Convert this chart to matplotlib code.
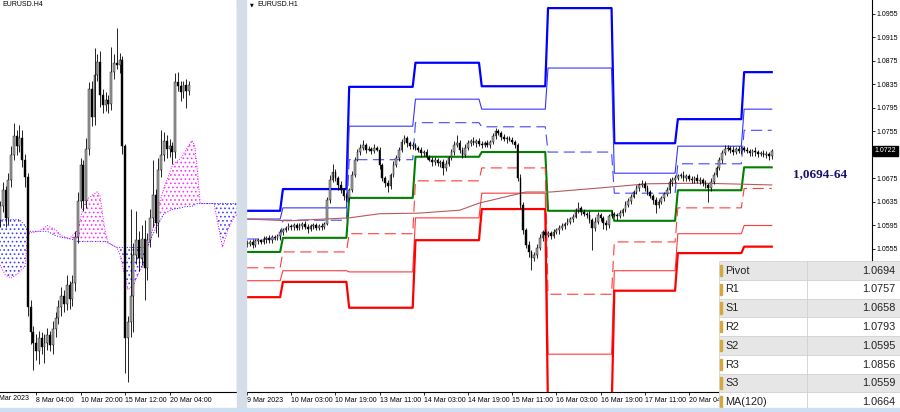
import matplotlib
matplotlib.use("Agg")
import matplotlib.pyplot as plt
from matplotlib.patches import Rectangle
import numpy as np

plt.rcParams['font.family'] = ['Liberation Sans', 'DejaVu Sans']
plt.rcParams['hatch.linewidth'] = 0.7

# ---------------- EURUSD H4 (left window) ----------------
h4_open0 = 1.0630
h4_close = [1.0639, 1.0650, 1.0631, 1.0657, 1.0674, 1.0687, 1.0680, 1.0686, 1.0671, 1.0659,
            1.0570, 1.0553, 1.0546, 1.0540, 1.0549, 1.0543, 1.0546, 1.0551, 1.0544, 1.0555,
            1.0563, 1.0570, 1.0578, 1.0572, 1.0585, 1.0576, 1.0587, 1.0618, 1.0643, 1.0667,
            1.0643, 1.0678, 1.0719, 1.0700, 1.0729, 1.0738, 1.0715, 1.0708, 1.0712, 1.0709,
            1.0731, 1.0737, 1.0736, 1.0739, 1.0680, 1.0549, 1.0560, 1.0578, 1.0606, 1.0616,
            1.0604, 1.0617, 1.0597, 1.0616, 1.0631, 1.0647, 1.0628, 1.0664, 1.0674, 1.0684,
            1.0678, 1.0680, 1.0676, 1.0724, 1.0721, 1.0717, 1.0722, 1.0718, 1.0722]
# wick lengths in pips above / below the body
h4_wick_up = [4, 6, 3, 5, 6, 9, 4, 9, 5, 4,
              3, 5, 4, 6, 5, 4, 6, 5, 3, 6,
              4, 5, 6, 4, 7, 3, 5, 4, 6, 5,
              4, 8, 5, 6, 18, 5, 7, 4, 5, 3,
              17, 6, 24, 5, 3, 2, 4, 59, 8, 20,
              6, 9, 13, 5, 6, 24, 4, 8, 17, 6,
              4, 5, 3, 6, 7, 4, 3, 4, 3]
h4_wick_dn = [5, 4, 6, 4, 5, 3, 6, 4, 5, 7,
              6, 8, 19, 6, 9, 5, 11, 5, 4, 6,
              5, 4, 6, 5, 4, 7, 5, 6, 4, 5,
              7, 5, 4, 6, 5, 4, 8, 5, 4, 6,
              4, 5, 3, 6, 5, 24, 30, 10, 25, 6,
              9, 5, 22, 8, 5, 6, 7, 10, 5, 4,
              6, 5, 8, 4, 3, 6, 4, 12, 3]
h4_tick_bars = [13, 29, 45, 61]
h4_tick_labels = ["8 Mar 04:00", "10 Mar 20:00", "15 Mar 12:00", "20 Mar 04:00"]

# Ichimoku cloud (Senkou span A / B)
cloud_bars = [0, 2, 4, 7, 9, 10, 11, 14, 17, 20, 22, 25, 27, 28, 30, 32, 35, 36, 37, 38,
              39, 42, 43, 45, 46, 48, 50, 52, 53, 55, 56, 59, 62, 65, 67, 69, 70, 71, 72, 77,
              78, 80, 82, 84, 86]
span_a = [1.0599, 1.0592, 1.0590, 1.0594, 1.0598, 1.0620, 1.0621, 1.0622, 1.0626, 1.0623,
          1.0619, 1.0617, 1.0621, 1.0623, 1.0639, 1.0645, 1.0649, 1.0646, 1.0632, 1.0620,
          1.0614, 1.0611, 1.0607, 1.0591, 1.0582, 1.0585, 1.0594, 1.0600, 1.0611, 1.0624,
          1.0632, 1.0652, 1.0667, 1.0672, 1.0678, 1.0684, 1.0681, 1.0664, 1.0641, 1.0641,
          1.0631, 1.0611, 1.0623, 1.0631, 1.0635]
span_b = [1.0630, 1.0630, 1.0630, 1.0630, 1.0626, 1.0622, 1.0622, 1.0622, 1.0622, 1.0619,
          1.0618, 1.0617, 1.0616, 1.0615, 1.0615, 1.0615, 1.0615, 1.0615, 1.0615, 1.0615,
          1.0614, 1.0611, 1.0611, 1.0611, 1.0611, 1.0611, 1.0611, 1.0611, 1.0611, 1.0620,
          1.0624, 1.0634, 1.0637, 1.0638, 1.0639, 1.0639, 1.0640, 1.0641, 1.0641, 1.0641,
          1.0641, 1.0641, 1.0641, 1.0641, 1.0641]

# ---------------- EURUSD H1 (right window) ----------------
h1_open0 = 1.0566
h1_close = [1.0564, 1.0567, 1.0562, 1.0569, 1.0570, 1.0567, 1.0572, 1.0574, 1.0570, 1.0575,
            1.0574, 1.0577, 1.0584, 1.0587, 1.0591, 1.0594, 1.0593, 1.0596, 1.0591, 1.0594,
            1.0598, 1.0593, 1.0589, 1.0594, 1.0596, 1.0591, 1.0594, 1.0593, 1.0598, 1.0638,
            1.0673, 1.0686, 1.0676, 1.0664, 1.0655, 1.0645, 1.0642, 1.0655, 1.0681, 1.0707,
            1.0720, 1.0727, 1.0732, 1.0724, 1.0725, 1.0722, 1.0727, 1.0724, 1.0698, 1.0676,
            1.0667, 1.0662, 1.0681, 1.0698, 1.0710, 1.0724, 1.0737, 1.0744, 1.0735, 1.0730,
            1.0732, 1.0727, 1.0724, 1.0718, 1.0720, 1.0712, 1.0707, 1.0703, 1.0707, 1.0701,
            1.0703, 1.0693, 1.0700, 1.0710, 1.0720, 1.0732, 1.0735, 1.0724, 1.0715, 1.0727,
            1.0735, 1.0739, 1.0735, 1.0739, 1.0734, 1.0732, 1.0735, 1.0732, 1.0737, 1.0747,
            1.0756, 1.0752, 1.0746, 1.0742, 1.0744, 1.0741, 1.0737, 1.0732, 1.0676, 1.0630,
            1.0587, 1.0562, 1.0550, 1.0540, 1.0545, 1.0557, 1.0574, 1.0584, 1.0579, 1.0582,
            1.0577, 1.0584, 1.0587, 1.0591, 1.0594, 1.0598, 1.0601, 1.0606, 1.0610, 1.0621,
            1.0625, 1.0618, 1.0615, 1.0613, 1.0604, 1.0591, 1.0601, 1.0613, 1.0608, 1.0599,
            1.0596, 1.0611, 1.0615, 1.0613, 1.0611, 1.0616, 1.0621, 1.0630, 1.0637, 1.0644,
            1.0652, 1.0659, 1.0664, 1.0666, 1.0659, 1.0652, 1.0645, 1.0638, 1.0630, 1.0635,
            1.0642, 1.0649, 1.0655, 1.0669, 1.0673, 1.0676, 1.0679, 1.0681, 1.0676, 1.0679,
            1.0674, 1.0673, 1.0676, 1.0671, 1.0673, 1.0667, 1.0664, 1.0659, 1.0669, 1.0681,
            1.0693, 1.0707, 1.0718, 1.0725, 1.0727, 1.0724, 1.0720, 1.0725, 1.0722, 1.0727,
            1.0724, 1.0722, 1.0718, 1.0722, 1.0720, 1.0717, 1.0718, 1.0715, 1.0717, 1.0713,
            1.0722]
h1_wick_up = [4, 3, 5, 3, 4, 2, 5, 3, 4, 3, 4, 3, 5, 4, 3, 5, 4, 3, 4, 5,
              3, 4, 5, 3, 4, 3, 4, 5, 3, 6, 8, 14, 5, 4, 6, 3, 5, 4, 6, 5,
              6, 7, 9, 4, 5, 3, 6, 4, 5, 3, 4, 5, 3, 6, 5, 4, 6, 5, 4, 3,
              5, 4, 3, 5, 4, 6, 3, 4, 5, 3, 4, 5, 6, 4, 5, 6, 14, 5, 4, 6,
              5, 4, 6, 3, 5, 4, 3, 5, 4, 6, 5, 4, 3, 5, 4, 3, 5, 4, 3, 6,
              5, 4, 6, 3, 5, 7, 6, 4, 5, 3, 4, 5, 3, 4, 5, 3, 6, 4, 5, 4,
              10, 4, 5, 3, 6, 4, 8, 5, 4, 3, 5, 4, 6, 3, 4, 5, 3, 6, 4, 5,
              4, 5, 3, 7, 4, 5, 3, 4, 6, 5, 4, 3, 5, 6, 4, 5, 3, 4, 6, 3,
              4, 5, 3, 6, 4, 3, 5, 4, 6, 5, 4, 5, 6, 7, 5, 4, 6, 3, 5, 4,
              3, 5, 4, 3, 6, 4, 3, 5, 4, 3, 4]
h1_wick_dn = [5, 4, 6, 3, 5, 4, 3, 6, 4, 5, 3, 4, 6, 5, 3, 4, 5, 6, 4, 3,
              5, 4, 6, 3, 5, 4, 3, 5, 4, 3, 5, 4, 6, 8, 5, 7, 6, 4, 3, 4,
              3, 5, 4, 6, 3, 5, 4, 3, 6, 5, 7, 10, 5, 4, 3, 5, 4, 3, 6, 4,
              5, 3, 4, 6, 5, 4, 3, 6, 5, 4, 6, 12, 5, 4, 3, 5, 4, 6, 5, 3,
              4, 5, 3, 6, 4, 5, 3, 4, 5, 3, 4, 3, 5, 4, 6, 3, 4, 5, 6, 5,
              7, 6, 8, 20, 6, 5, 4, 6, 5, 4, 5, 4, 3, 6, 4, 5, 3, 4, 5, 3,
              4, 5, 3, 6, 4, 37, 5, 4, 6, 10, 8, 5, 4, 3, 6, 4, 5, 3, 4, 5,
              3, 4, 5, 4, 6, 5, 4, 6, 14, 5, 4, 5, 3, 4, 6, 5, 4, 3, 5, 6,
              4, 5, 6, 3, 5, 4, 6, 24, 5, 4, 3, 4, 5, 3, 4, 6, 5, 4, 3, 5,
              4, 3, 5, 4, 6, 5, 3, 4, 5, 6, 5]

# daily pivot levels: 9, 10, 13, 14, 15, 16, 17, 20, 21 Mar
day_bars = [13, 24, 24, 24, 24, 24, 23, 24, 11]
r3 = [1.0620, 1.0657, 1.0831, 1.0872, 1.0832, 1.0965, 1.0735, 1.0776, 1.0856]
r2 = [1.0606, 1.0625, 1.0764, 1.0810, 1.0793, 1.0863, 1.0684, 1.0730, 1.0793]
r1 = [1.0572, 1.0604, 1.0707, 1.0770, 1.0763, 1.0720, 1.0650, 1.0700, 1.0757]
pivot = [1.0550, 1.0574, 1.0642, 1.0712, 1.0720, 1.0620, 1.0603, 1.0655, 1.0694]
s1 = [1.0523, 1.0550, 1.0581, 1.0671, 1.0693, 1.0478, 1.0567, 1.0625, 1.0658]
s2 = [1.0501, 1.0518, 1.0516, 1.0608, 1.0650, 1.0376, 1.0518, 1.0581, 1.0595]
s3 = [1.0473, 1.0499, 1.0455, 1.0570, 1.0623, 1.0274, 1.0484, 1.0548, 1.0559]

ma_bars = [0, 15, 37, 48, 62, 77, 84, 101, 110, 128, 145, 165, 190]
ma120 = [1.0606, 1.0603, 1.0608, 1.0615, 1.0616, 1.0621, 1.0633, 1.0652, 1.0652,
         1.0659, 1.0666, 1.0667, 1.0664]

h1_tick_bars = [0, 16, 32, 48, 64, 80, 96, 112, 128, 144, 160]
h1_tick_labels = ["9 Mar 2023", "10 Mar 03:00", "10 Mar 19:00", "13 Mar 11:00",
                  "14 Mar 03:00", "14 Mar 19:00", "15 Mar 11:00", "16 Mar 03:00",
                  "16 Mar 19:00", "17 Mar 11:00", "20 Mar 04:00"]
price_ticks = [1.0555, 1.0595, 1.0635, 1.0675, 1.0715, 1.0755, 1.0795, 1.0835,
               1.0875, 1.0915, 1.0955]
last_price = 1.0722

zone_text = "1,0694-64"
zone_bar, zone_price = 207.5, 1.0683

table_names = ["Pivot", "R1", "S1", "R2", "S2", "R3", "S3", "MA(120)"]
table_values = ["1.0694", "1.0757", "1.0658", "1.0793", "1.0595", "1.0856", "1.0559", "1.0664"]

PIP = 0.0001
W, H = 900, 412


def px_rect(x0, y0, x1, y1):
    return [x0 / W, 1 - y1 / H, (x1 - x0) / W, (y1 - y0) / H]


def draw_candles(ax, open0, closes, up, dn, width):
    c = np.array(closes)
    o = np.concatenate([[open0], c[:-1]])
    top = np.maximum(o, c)
    bot = np.minimum(o, c)
    x = np.arange(len(c))
    ax.vlines(x, bot - np.array(dn) * PIP, top + np.array(up) * PIP,
              color='black', lw=0.6, zorder=5)
    colors = np.where(c >= o, '#a8a8a8', 'black')
    ax.bar(x, np.maximum(top - bot, 0.00004), bottom=bot, width=width,
           color=colors, edgecolor='black', linewidth=0.3, zorder=6)


def mt4_axis(ax, bars, labels):
    ax.set_xticks(bars)
    ax.set_xticklabels(labels)
    ax.tick_params(axis='x', length=2.5, width=0.6, pad=0.8, labelsize=5)
    for lab in ax.get_xticklabels():
        lab.set_ha('left')
    for s in ['top', 'left']:
        ax.spines[s].set_visible(False)


fig = plt.figure(figsize=(9, 4.12), dpi=100)

# window background / separators
fig.patches.append(Rectangle((237 / W, 0), 9 / W, 1, transform=fig.transFigure,
                             color='#d5dde8', zorder=0))
fig.patches.append(Rectangle((0, 0), 1, 4 / H, transform=fig.transFigure,
                             color='#cddff3', zorder=0))

# ---- left: H4 ----
ax1 = fig.add_axes(px_rect(0, 0, 237, 392))
ax1.set_xlim(0, 85.25)
ax1.set_ylim(1.05122, 1.07801)
a = np.array(span_a)
b = np.array(span_b)
ax1.fill_between(cloud_bars, a, b, where=a >= b, interpolate=True, facecolor='none',
                 edgecolor='#ff33ff', hatch='....', linewidth=0, zorder=2)
ax1.fill_between(cloud_bars, a, b, where=a < b, interpolate=True, facecolor='none',
                 edgecolor='#4040ff', hatch='....', linewidth=0, zorder=2)
ax1.plot(cloud_bars, span_a, color='#ff00ff', lw=0.7, ls=':', zorder=3)
ax1.plot(cloud_bars, span_b, color='#2020ff', lw=0.7, ls=':', zorder=3)
draw_candles(ax1, h4_open0, h4_close, h4_wick_up, h4_wick_dn, 0.7)
mt4_axis(ax1, h4_tick_bars, h4_tick_labels)
ax1.set_yticks([])
ax1.spines['right'].set_linewidth(0.8)
ax1.spines['bottom'].set_linewidth(0.8)
fig.text(-7 / W, 1 - 399 / H, "7 Mar 2023", fontsize=5, va='center', ha='left')
fig.text(2 / W, 1 - 5 / H, "EURUSD.H4", fontsize=5, va='center')

# ---- right: H1 ----
ax2 = fig.add_axes(px_rect(246, 0, 872, 392))
ax2.set_xlim(-0.36, 226.3)
ax2.set_ylim(1.03116, 1.09788)
xb = np.arange(len(h1_close))
ax2.plot(xb, np.repeat(r3, day_bars), color='#0000ff', lw=1.6, zorder=3)
ax2.plot(xb, np.repeat(r2, day_bars), color='#3535ff', lw=0.8, zorder=3)
ax2.plot(xb, np.repeat(r1, day_bars), color='#4545ff', lw=0.8, dashes=(10, 5), zorder=3)
ax2.plot(xb, np.repeat(pivot, day_bars), color='#008000', lw=1.5, zorder=3)
ax2.plot(xb, np.repeat(s1, day_bars), color='#ff3b3b', lw=0.8, dashes=(10, 5), zorder=3)
ax2.plot(xb, np.repeat(s2, day_bars), color='#ff3b3b', lw=0.8, zorder=3)
ax2.plot(xb, np.repeat(s3, day_bars), color='#ff0000', lw=1.6, zorder=3)
ax2.plot(ma_bars, ma120, color='#b85a5a', lw=0.8, zorder=3)
draw_candles(ax2, h1_open0, h1_close, h1_wick_up, h1_wick_dn, 0.6)
mt4_axis(ax2, h1_tick_bars, h1_tick_labels)
ax2.spines['left'].set_color('#808080')
ax2.yaxis.tick_right()
ax2.set_yticks(price_ticks)
ax2.set_yticklabels([f"{p:.4f}" for p in price_ticks])
ax2.tick_params(axis='y', length=2.5, width=0.6, pad=1.0, labelsize=5)
ax2.text(1.004, last_price, f"{last_price:.4f}", transform=ax2.get_yaxis_transform(),
         color='white', fontsize=5, va='center', ha='left', zorder=10, clip_on=False,
         bbox=dict(boxstyle='square,pad=0.2', fc='black', ec='black'))
ax2.text(zone_bar, zone_price, zone_text, color='#14146e', fontsize=9.5, fontweight='bold',
         family=['Liberation Serif', 'DejaVu Serif'], ha='center', va='center', zorder=10)
fig.text(250 / W, 1 - 5 / H, "\u25bc", fontsize=3.5, va='center',
         family=['DejaVu Sans'])
fig.text(257 / W, 1 - 5 / H, "EURUSD.H1", fontsize=5, va='center')

# ---- level table ----
ax3 = fig.add_axes(px_rect(719, 261, 900, 411))
ax3.set_xlim(0, 1)
ax3.set_ylim(len(table_names), 0)
ax3.axis('off')
for i, (name, val) in enumerate(zip(table_names, table_values)):
    ax3.add_patch(Rectangle((0, i), 1, 1, facecolor='#e6e6e6' if i % 2 == 0 else 'white',
                            edgecolor='#d4d4d4', lw=0.6))
    ax3.add_patch(Rectangle((0.008, i + 0.2), 0.011, 0.6, color='#d6a73a'))
    ax3.text(0.035, i + 0.52, name, fontsize=7.8, va='center', ha='left', color='#222222')
    ax3.text(0.975, i + 0.52, val, fontsize=7.8, va='center', ha='right', color='#222222')
ax3.plot([0.485, 0.485], [0, len(table_names)], color='#d0d0d0', lw=0.6)

fig.savefig("out.png", dpi=100)
